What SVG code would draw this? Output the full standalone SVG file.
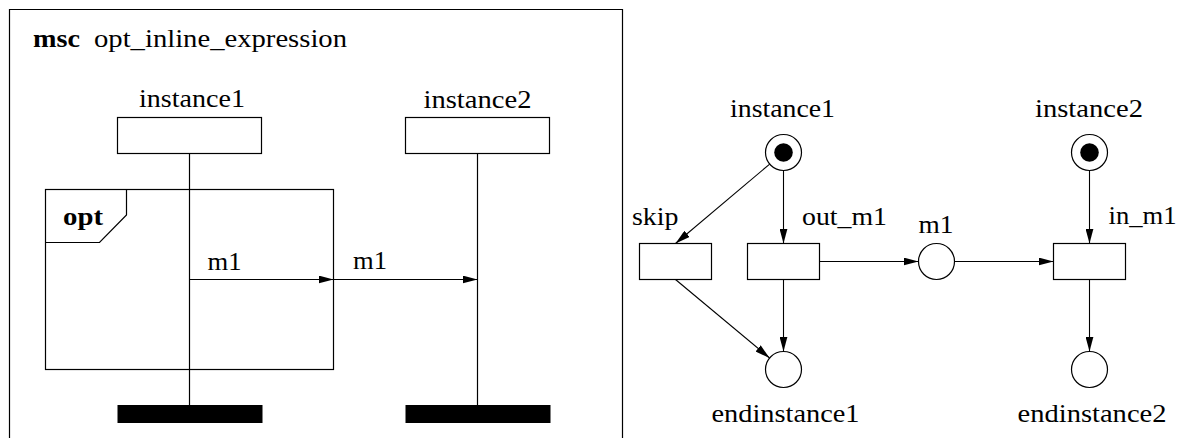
<svg xmlns="http://www.w3.org/2000/svg" width="1180" height="438" viewBox="0 0 1180 438">
<style>
  .b { font-weight: bold; }
  .mid { text-anchor: middle; }
  .ln { fill: none; stroke: #000; stroke-width: 1.2; }
  .box { fill: #fff; stroke: #000; stroke-width: 1.2; }
  .bar { fill: #000; stroke: none; }
  .arr { fill: none; stroke: #000; stroke-width: 1.1; marker-end: url(#ah); }
</style>
<defs>
  <marker id="ah" markerUnits="userSpaceOnUse" markerWidth="15" markerHeight="8" refX="15" refY="4" orient="auto">
    <path d="M0,0 L15,4 L0,8 z" fill="#000"/>
  </marker>
</defs>
<rect width="1180" height="438" fill="#fff"/>

<!-- MSC frame -->
<g id="msc-frame">
  <path class="ln" d="M9.5,438 L9.5,9.5 L622.5,9.5 L622.5,438" stroke-width="1.5"/>
  <text x="33" y="47" font-family="Liberation Serif" font-size="26" font-weight="bold" textLength="47" lengthAdjust="spacingAndGlyphs">msc</text>
  <text x="94" y="47" font-family="Liberation Serif" font-size="26" textLength="253" lengthAdjust="spacingAndGlyphs">opt_inline_expression</text>
</g>

<!-- opt inline expression -->
<g id="opt-box">
  <rect class="ln" x="45.5" y="189.5" width="288" height="180"/>
  <path class="ln" d="M126.5,189.5 L126.5,215 L99.5,242.5 L45.5,242.5"/>
  <text x="63" y="225" font-family="Liberation Serif" font-size="26" font-weight="bold" textLength="40" lengthAdjust="spacingAndGlyphs">opt</text>
</g>

<g id="msc-instance1">
  <text x="192" y="107" font-family="Liberation Serif" font-size="26" text-anchor="middle" textLength="106" lengthAdjust="spacingAndGlyphs">instance1</text>
  <rect class="box" x="117.5" y="117.5" width="144" height="36"/>
  <line class="ln" x1="189.5" y1="153.5" x2="189.5" y2="405"/>
  <rect class="bar" x="117.5" y="405" width="145" height="18"/>
</g>

<g id="msc-instance2">
  <text x="477.5" y="108" font-family="Liberation Serif" font-size="26" text-anchor="middle" textLength="108" lengthAdjust="spacingAndGlyphs">instance2</text>
  <rect class="box" x="405.5" y="117.5" width="144" height="36"/>
  <line class="ln" x1="477.5" y1="153.5" x2="477.5" y2="405"/>
  <rect class="bar" x="405.5" y="405" width="145" height="18"/>
</g>

<g id="msc-connectors">
  <line class="arr" x1="189.5" y1="279.5" x2="333.5" y2="279.5"/>
  <line class="arr" x1="333.5" y1="279.5" x2="477.5" y2="279.5"/>
  <text x="207.5" y="270" font-family="Liberation Serif" font-size="26" textLength="34" lengthAdjust="spacingAndGlyphs">m1</text>
  <text x="353" y="269" font-family="Liberation Serif" font-size="26" textLength="34" lengthAdjust="spacingAndGlyphs">m1</text>
</g>

<!-- Petri net -->
<g id="place-instance1">
  <circle class="box" cx="783.5" cy="152.5" r="18"/>
  <circle cx="783.5" cy="152.5" r="9.3" fill="#000"/>
  <text x="782.5" y="116.5" font-family="Liberation Serif" font-size="26" text-anchor="middle" textLength="105" lengthAdjust="spacingAndGlyphs">instance1</text>
</g>
<g id="place-instance2">
  <circle class="box" cx="1089.5" cy="152.5" r="18"/>
  <circle cx="1089.5" cy="152.5" r="9.3" fill="#000"/>
  <text x="1089" y="116.5" font-family="Liberation Serif" font-size="26" text-anchor="middle" textLength="108" lengthAdjust="spacingAndGlyphs">instance2</text>
</g>
<g id="trans-skip">
  <rect class="box" x="639.5" y="243.5" width="72" height="36"/>
  <text x="632" y="225" font-family="Liberation Serif" font-size="26" textLength="46.5" lengthAdjust="spacingAndGlyphs">skip</text>
</g>
<g id="trans-out_m1">
  <rect class="box" x="747.5" y="243.5" width="72" height="36"/>
  <text x="802" y="225" font-family="Liberation Serif" font-size="26" textLength="85" lengthAdjust="spacingAndGlyphs">out_m1</text>
</g>
<g id="place-m1">
  <circle class="box" cx="936.5" cy="261.5" r="18"/>
  <text x="918.5" y="233" font-family="Liberation Serif" font-size="26" textLength="35" lengthAdjust="spacingAndGlyphs">m1</text>
</g>
<g id="trans-in_m1">
  <rect class="box" x="1053.5" y="243.5" width="72" height="36"/>
  <text x="1108.5" y="224" font-family="Liberation Serif" font-size="26" textLength="68" lengthAdjust="spacingAndGlyphs">in_m1</text>
</g>
<g id="place-endinstance1">
  <circle class="box" cx="783.5" cy="369.5" r="18"/>
  <text x="785.5" y="422" font-family="Liberation Serif" font-size="26" text-anchor="middle" textLength="148" lengthAdjust="spacingAndGlyphs">endinstance1</text>
</g>
<g id="place-endinstance2">
  <circle class="box" cx="1089.5" cy="369.5" r="18"/>
  <text x="1092" y="422" font-family="Liberation Serif" font-size="26" text-anchor="middle" textLength="149" lengthAdjust="spacingAndGlyphs">endinstance2</text>
</g>

<g id="petri-connectors">
  <line class="arr" x1="769.7" y1="164.1" x2="675.5" y2="243.5"/>
  <line class="arr" x1="783.5" y1="170.5" x2="783.5" y2="243.5"/>
  <line class="arr" x1="675.5" y1="279.5" x2="769.6" y2="358"/>
  <line class="arr" x1="783.5" y1="279.5" x2="783.5" y2="351.5"/>
  <line class="arr" x1="819.5" y1="261.5" x2="918.5" y2="261.5"/>
  <line class="arr" x1="954.5" y1="261.5" x2="1053.5" y2="261.5"/>
  <line class="arr" x1="1089.5" y1="170.5" x2="1089.5" y2="243.5"/>
  <line class="arr" x1="1089.5" y1="279.5" x2="1089.5" y2="351.5"/>
</g>
</svg>
